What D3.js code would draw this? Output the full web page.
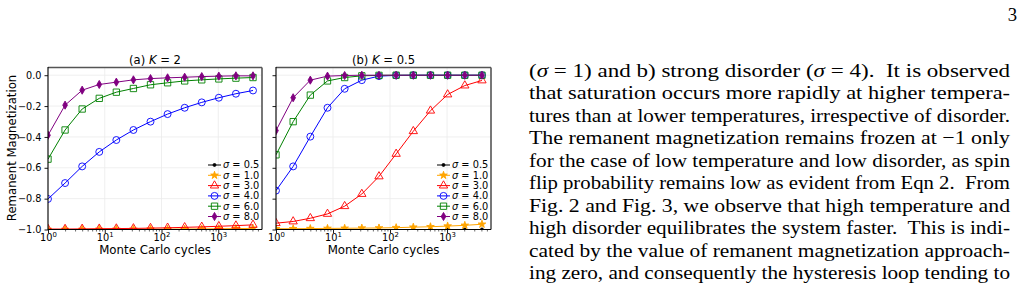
<!DOCTYPE html>
<html>
<head>
<meta charset="utf-8">
<script src="https://cdn.jsdelivr.net/npm/d3@7"></script>
<style>
body { margin: 0; background: #fff; }
svg { display: block; }
</style>
</head>
<body>
<svg id="page" width="1025" height="288"></svg>
<script>
const cycles = [1, 2, 4, 8, 16, 32, 64, 128, 256, 512, 1024, 2048, 4096];
const sigmaLabels = ["0.5", "1.0", "3.0", "4.0", "6.0", "8.0"];
const seriesColors = ["#000000", "#ffa500", "#ff0000", "#0000ff", "#008000", "#800080"];
const seriesMarkers = ["point", "star", "triangle", "circle", "square", "diamond"];
const yTicks = [0, -0.2, -0.4, -0.6, -0.8, -1.0];
const xTicks = [1, 10, 100, 1000];

// (a) K = 2
const k2Sigma05 = [-1, -1, -1, -1, -1, -1, -1, -1, -1, -1, -1, -1, -1];
const k2Sigma10 = [-1.0, -1.0, -1.0, -0.999, -0.999, -0.999, -0.998, -0.998, -0.997, -0.996, -0.995, -0.994, -0.993];
const k2Sigma30 = [-0.997, -0.997, -0.996, -0.995, -0.994, -0.993, -0.991, -0.989, -0.986, -0.983, -0.979, -0.975, -0.970];
const k2Sigma40 = [-0.802, -0.699, -0.591, -0.497, -0.420, -0.355, -0.301, -0.252, -0.211, -0.176, -0.146, -0.120, -0.099];
const k2Sigma60 = [-0.544, -0.355, -0.219, -0.150, -0.110, -0.086, -0.062, -0.049, -0.037, -0.030, -0.024, -0.019, -0.015];
const k2Sigma80 = [-0.389, -0.194, -0.097, -0.060, -0.045, -0.030, -0.022, -0.017, -0.013, -0.009, -0.006, -0.004, -0.004];

// (b) K = 0.5
const k05Sigma05 = [-1, -1, -1, -1, -1, -1, -1, -1, -1, -1, -1, -1, -1];
const k05Sigma10 = [-0.995, -0.995, -0.994, -0.993, -0.992, -0.991, -0.990, -0.988, -0.985, -0.982, -0.978, -0.973, -0.966];
const k05Sigma30 = [-0.959, -0.948, -0.927, -0.899, -0.849, -0.770, -0.656, -0.510, -0.363, -0.230, -0.125, -0.067, -0.034];
const k05Sigma40 = [-0.748, -0.591, -0.398, -0.211, -0.088, -0.032, -0.006, -0.001, 0, 0, 0, 0, 0];
const k05Sigma60 = [-0.516, -0.301, -0.129, -0.037, -0.015, -0.004, -0.001, 0, 0, 0, 0, 0, 0];
const k05Sigma80 = [-0.359, -0.146, -0.032, -0.006, -0.002, 0, 0, 0, 0, 0, 0, 0, 0];

const textLines = [
  [["(", false], ["σ", true], [" = 1) and b) strong disorder (", false], ["σ", true], [" = 4).  It is observed", false]],
  [["that saturation occurs more rapidly at higher tempera-", false]],
  [["tures than at lower temperatures, irrespective of disorder.", false]],
  [["The remanent magnetization remains frozen at −1 only", false]],
  [["for the case of low temperature and low disorder, as spin", false]],
  [["flip probability remains low as evident from Eqn 2.  From", false]],
  [["Fig. 2 and Fig. 3, we observe that high temperature and", false]],
  [["high disorder equilibrates the system faster.  This is indi-", false]],
  [["cated by the value of remanent magnetization approach-", false]],
  [["ing zero, and consequently the hysteresis loop tending to", false]]
];

const svg = d3.select("#page");
const sans = "DejaVu Sans";

function markerPath(kind) {
  const sym = d3.symbol();
  if (kind === "point") return sym.type(d3.symbolCircle).size(7)();
  if (kind === "star") return sym.type(d3.symbolStar).size(18)();
  if (kind === "triangle") return sym.type(d3.symbolTriangle).size(30)();
  if (kind === "circle") return sym.type(d3.symbolCircle).size(38)();
  if (kind === "square") return sym.type(d3.symbolSquare).size(40)();
  return sym.type(d3.symbolDiamond).size(19)();
}

function isFilled(kind) {
  return kind === "point" || kind === "star" || kind === "diamond";
}

function drawPanel(cfg) {
  const x = d3.scaleLog().domain([1, 5900]).range([cfg.left, cfg.right]);
  const y = d3.scaleLinear().domain([-1, 0.05]).range([229.5, 67.5]);
  const g = svg.append("g");

  const clipId = "clip-" + cfg.id;
  svg.append("clipPath").attr("id", clipId)
    .append("rect")
    .attr("x", cfg.left).attr("y", 67.5)
    .attr("width", cfg.right - cfg.left).attr("height", 229.5 - 67.5);

  // grid
  g.selectAll(".vgrid").data(xTicks).enter().append("line")
    .attr("x1", (d) => x(d)).attr("x2", (d) => x(d))
    .attr("y1", 67.5).attr("y2", 229.5)
    .attr("stroke", "#ebebeb").attr("stroke-width", 0.8);
  g.selectAll(".hgrid").data(yTicks).enter().append("line")
    .attr("x1", cfg.left).attr("x2", cfg.right)
    .attr("y1", (d) => y(d)).attr("y2", (d) => y(d))
    .attr("stroke", "#ebebeb").attr("stroke-width", 0.8);

  // series
  const line = d3.line().x((d) => x(d[0])).y((d) => y(d[1]));
  const plot = g.append("g").attr("clip-path", "url(#" + clipId + ")");
  cfg.series.forEach((vals, i) => {
    const pts = cycles.map((c, j) => [c, vals[j]]);
    plot.append("path")
      .attr("d", line(pts))
      .attr("fill", "none")
      .attr("stroke", seriesColors[i])
      .attr("stroke-width", 1);
    plot.selectAll(".m" + i).data(pts).enter().append("path")
      .attr("transform", (d) => "translate(" + x(d[0]) + "," + y(d[1]) + ")")
      .attr("d", markerPath(seriesMarkers[i]))
      .attr("fill", isFilled(seriesMarkers[i]) ? seriesColors[i] : "none")
      .attr("stroke", seriesColors[i])
      .attr("stroke-width", 0.9);
  });

  // spines
  g.append("line").attr("x1", cfg.left).attr("x2", cfg.right).attr("y1", 67.5).attr("y2", 67.5)
    .attr("stroke", "#555").attr("stroke-width", 1.6);
  g.append("line").attr("x1", cfg.right).attr("x2", cfg.right).attr("y1", 67.5).attr("y2", 229.5)
    .attr("stroke", "#555").attr("stroke-width", 1.6);
  g.append("line").attr("x1", cfg.left).attr("x2", cfg.left).attr("y1", 67).attr("y2", 230)
    .attr("stroke", "#000").attr("stroke-width", 1.1);
  g.append("line").attr("x1", cfg.left).attr("x2", cfg.right).attr("y1", 229.5).attr("y2", 229.5)
    .attr("stroke", "#000").attr("stroke-width", 1.1);

  // x axis
  const minor = [];
  for (let k = 0; k < 4; k++) {
    for (let m = 2; m < 10; m++) {
      const v = m * Math.pow(10, k);
      if (v < 5900) minor.push(v);
    }
  }
  const xMinor = g.append("g").attr("transform", "translate(0,229.5)")
    .call(d3.axisBottom(x).tickValues(minor).tickSize(2).tickFormat(() => ""));
  xMinor.select(".domain").remove();
  xMinor.selectAll("line").attr("stroke", "#000").attr("stroke-width", 0.6);

  const xAxis = g.append("g").attr("transform", "translate(0,229.5)")
    .call(d3.axisBottom(x).tickValues(xTicks).tickSize(3.5).tickPadding(1.5).tickFormat(() => ""));
  xAxis.select(".domain").remove();
  xAxis.selectAll("line").attr("stroke", "#000").attr("stroke-width", 0.9);
  xAxis.selectAll(".tick text")
    .attr("font-family", sans).attr("font-size", 9.8).attr("fill", "#000")
    .each(function (d) {
      const t = d3.select(this);
      t.text(null);
      t.append("tspan").text("10");
      t.append("tspan").attr("dy", -4).attr("font-size", 6.9).text(Math.round(Math.log10(d)));
    });

  // y axis
  const yAxis = g.append("g").attr("transform", "translate(" + cfg.left + ",0)")
    .call(d3.axisLeft(y).tickValues(yTicks).tickSize(3.5).tickPadding(3)
      .tickFormat((d) => cfg.yLabels ? d3.format(".1f")(d).replace("-", "−") : ""));
  yAxis.select(".domain").remove();
  yAxis.selectAll("line").attr("stroke", "#000").attr("stroke-width", 0.9);
  yAxis.selectAll("text").attr("font-family", sans).attr("font-size", 9.7).attr("fill", "#000");

  // title
  const title = g.append("text")
    .attr("x", (cfg.left + cfg.right) / 2).attr("y", 64)
    .attr("text-anchor", "middle")
    .attr("font-family", sans).attr("font-size", 11.6);
  title.append("tspan").text(cfg.title[0]);
  title.append("tspan").attr("font-style", "italic").text("K");
  title.append("tspan").text(" = " + cfg.title[1]);

  // x label
  g.append("text")
    .attr("x", (cfg.left + cfg.right) / 2).attr("y", 254)
    .attr("text-anchor", "middle")
    .attr("font-family", sans).attr("font-size", 11.8)
    .text("Monte Carlo cycles");

  // legend
  const lg = g.append("g");
  sigmaLabels.forEach((lab, i) => {
    const yy = 165 + i * 10.3;
    const hx = cfg.legendX;
    lg.append("line").attr("x1", hx).attr("x2", hx + 13).attr("y1", yy).attr("y2", yy)
      .attr("stroke", seriesColors[i]).attr("stroke-width", 1);
    lg.append("path")
      .attr("transform", "translate(" + (hx + 6.5) + "," + yy + ")")
      .attr("d", markerPath(seriesMarkers[i]))
      .attr("fill", isFilled(seriesMarkers[i]) ? seriesColors[i] : "none")
      .attr("stroke", seriesColors[i]).attr("stroke-width", 0.9);
    const t = lg.append("text")
      .attr("x", hx + 15).attr("y", yy + 3.4)
      .attr("font-family", sans).attr("font-size", 9.8);
    t.append("tspan").attr("font-style", "italic").text("σ");
    t.append("tspan").text(" = " + lab);
  });
}

drawPanel({
  id: "a", left: 48, right: 262, title: ["(a) ", "2"], yLabels: true, legendX: 208,
  series: [k2Sigma05, k2Sigma10, k2Sigma30, k2Sigma40, k2Sigma60, k2Sigma80]
});
drawPanel({
  id: "b", left: 276, right: 491, title: ["(b) ", "0.5"], yLabels: false, legendX: 437,
  series: [k05Sigma05, k05Sigma10, k05Sigma30, k05Sigma40, k05Sigma60, k05Sigma80]
});

// y label (shared)
svg.append("text")
  .attr("transform", "translate(15.5,148) rotate(-90)")
  .attr("text-anchor", "middle")
  .attr("font-family", sans).attr("font-size", 11.7)
  .text("Remanent Magnetization");

// page number
svg.append("text")
  .attr("x", 1017).attr("y", 20.5)
  .attr("text-anchor", "end")
  .attr("font-family", "Liberation Serif").attr("font-size", 18.7)
  .text("3");

// body text column
const body = svg.append("g")
  .attr("font-family", "Liberation Serif").attr("font-size", 19).attr("fill", "#000");
textLines.forEach((parts, i) => {
  const t = body.append("text")
    .attr("x", 529).attr("y", 76.5 + i * 22.5)
    .attr("textLength", 481)
    .attr("lengthAdjust", "spacingAndGlyphs")
    .attr("xml:space", "preserve");
  parts.forEach((p) => {
    t.append("tspan").attr("font-style", p[1] ? "italic" : null).text(p[0]);
  });
});
</script>
</body>
</html>
